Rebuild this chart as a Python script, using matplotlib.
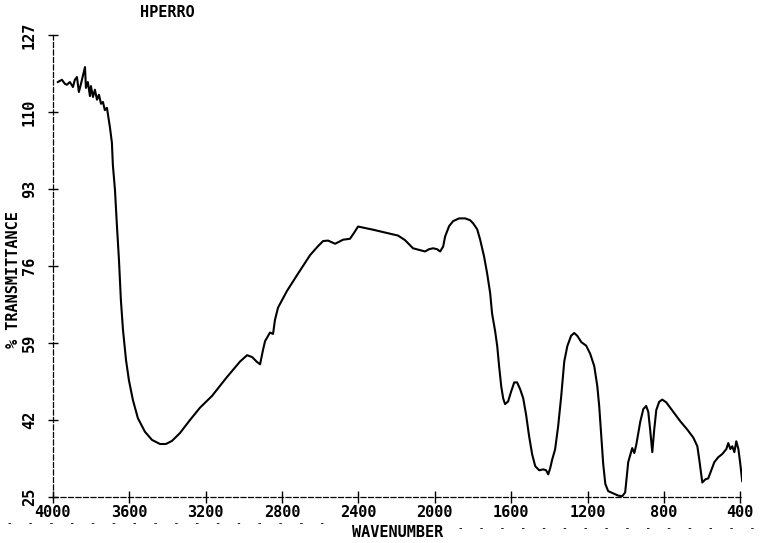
import matplotlib
matplotlib.use("Agg")
import matplotlib.pyplot as plt
from matplotlib.lines import Line2D

# IR spectrum, wavenumber (cm-1) vs % transmittance
wavenumber = [3974, 3953, 3937, 3927, 3911, 3895, 3885, 3874, 3864, 3853,
              3843, 3832, 3827, 3817, 3806, 3801, 3790, 3780, 3769, 3759,
              3748, 3738, 3728, 3717, 3707, 3701, 3691, 3686, 3675, 3665,
              3654, 3644, 3633, 3617, 3602, 3581, 3555, 3518, 3481, 3439,
              3408, 3376, 3335, 3282, 3230, 3167, 3088, 3020, 2983, 2957,
              2931, 2915, 2900, 2889, 2863, 2847, 2837, 2821, 2774, 2721,
              2653, 2611, 2585, 2559, 2522, 2480, 2444, 2423, 2402, 2323,
              2192, 2156, 2114, 2077, 2051, 2030, 2009, 1988, 1972, 1956,
              1946, 1925, 1904, 1873, 1841, 1815, 1799, 1778, 1763, 1742,
              1726, 1710, 1700, 1684, 1673, 1663, 1652, 1642, 1632, 1616,
              1600, 1584, 1569, 1553, 1537, 1522, 1506, 1490, 1474, 1453,
              1432, 1417, 1406, 1396, 1385, 1370, 1354, 1338, 1322, 1306,
              1286, 1270, 1254, 1233, 1207, 1186, 1165, 1149, 1139, 1128,
              1118, 1107, 1092, 1066, 1039, 1018, 1003, 987, 976, 966,
              955, 945, 924, 908, 893, 882, 872, 861, 851, 840,
              825, 809, 788, 767, 741, 714, 678, 646, 625, 615,
              599, 583, 568, 552, 536, 515, 494, 473, 463, 452,
              442, 431, 421, 410, 400, 390]
transmittance = [116.6, 117.1, 116.2, 116.0, 116.6, 115.5, 117.1, 117.7, 114.4, 116.2,
                 118.0, 119.9, 115.3, 116.6, 113.5, 115.7, 113.3, 114.9, 112.7, 113.8,
                 111.8, 112.2, 110.4, 110.9, 108.2, 106.5, 103.2, 98.3, 92.8, 85.1,
                 77.3, 68.5, 61.9, 55.2, 50.8, 46.4, 42.4, 39.4, 37.6, 36.7,
                 36.7, 37.4, 39.1, 42.0, 44.7, 47.3, 51.5, 54.9, 56.3, 55.9,
                 54.8, 54.3, 57.4, 59.4, 61.3, 61.0, 64.1, 66.8, 70.5, 74.0,
                 78.4, 80.4, 81.5, 81.6, 80.9, 81.8, 82.0, 83.3, 84.7, 84.0,
                 82.7, 81.7, 79.9, 79.5, 79.2, 79.7, 79.9, 79.7, 79.2, 80.3,
                 82.5, 84.8, 85.9, 86.5, 86.5, 86.1, 85.4, 84.1, 81.9, 78.1,
                 74.4, 70.0, 65.5, 61.6, 58.3, 53.8, 49.4, 46.8, 45.5, 46.1,
                 48.3, 50.3, 50.3, 48.8, 46.8, 43.2, 38.4, 34.4, 31.8, 30.9,
                 31.1, 30.9, 30.0, 31.3, 33.3, 35.5, 40.6, 47.2, 54.9, 58.3,
                 60.6, 61.2, 60.6, 59.2, 58.4, 56.6, 53.9, 49.5, 45.1, 38.5,
                 32.3, 27.9, 26.3, 25.8, 25.3, 25.2, 26.0, 32.7, 34.3, 35.8,
                 34.7, 36.5, 41.6, 44.4, 45.1, 43.8, 39.8, 34.9, 39.8, 44.2,
                 46.0, 46.5, 45.9, 44.7, 43.2, 41.7, 39.9, 38.1, 36.2, 33.3,
                 28.2, 28.9, 29.1, 30.9, 32.7, 33.8, 34.5, 35.6, 36.9, 35.6,
                 36.2, 34.9, 37.3, 35.6, 32.3, 28.5]

x_ticks = [4000, 3600, 3200, 2800, 2400, 2000, 1600, 1200, 800, 400]
y_ticks = [25, 42, 59, 76, 93, 110, 127]

mono = "DejaVu Sans Mono"

fig = plt.figure(figsize=(7.78, 5.43), dpi=100)
ax = fig.add_axes([0.068, 0.0847, 0.886, 0.851])

ax.plot(wavenumber, transmittance, color="black", lw=1.5, solid_joinstyle="round")

ax.set_xlim(4000, 390)
ax.set_ylim(25, 127)

for side in ("top", "right"):
    ax.spines[side].set_visible(False)
for side in ("left", "bottom"):
    ax.spines[side].set_linestyle((0, (4, 2)))
    ax.spines[side].set_linewidth(0.9)

ax.set_xticks(x_ticks)
ax.set_xticklabels([str(t) for t in x_ticks], family=mono, fontsize=11, fontweight="bold")
ax.set_yticks(y_ticks)
ax.set_yticklabels([str(t) for t in y_ticks], family=mono, fontsize=11,
                   fontweight="bold", rotation=90, va="center")
ax.tick_params(axis="x", direction="inout", length=8, width=1.0, pad=2)
ax.tick_params(axis="y", direction="inout", length=7, width=1.0, pad=8)

ax.set_xlabel("WAVENUMBER", family=mono, fontsize=11, fontweight="bold", labelpad=3)
ax.set_ylabel("% TRANSMITTANCE", family=mono, fontsize=11, fontweight="bold")
ax.yaxis.set_label_coords(-0.047, 0.47)
fig.text(0.215, 0.977, "HPERRO", family=mono, fontsize=11, fontweight="bold",
         ha="center", va="center")

# sparse dashed paper rulings below the axis
for yy, xs in ((0.037, (0.01, 0.42)), (0.027, (0.59, 0.99))):
    fig.add_artist(Line2D(list(xs), [yy, yy], transform=fig.transFigure,
                          color="black", lw=0.6, linestyle=(0, (3, 22))))

fig.savefig("out.png", dpi=100)
